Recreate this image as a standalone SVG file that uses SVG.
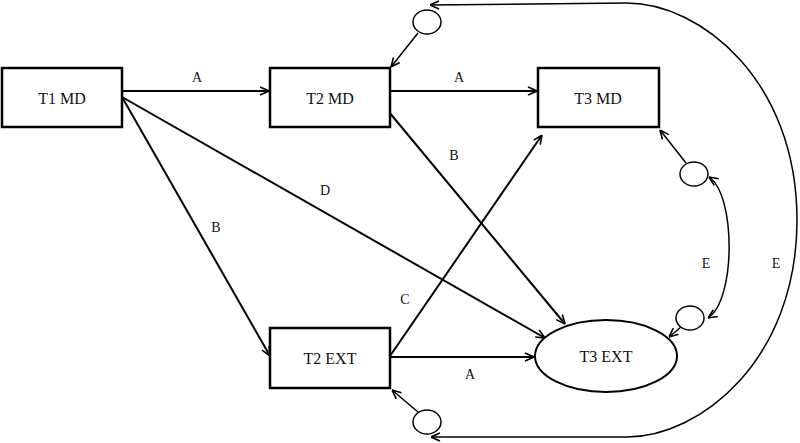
<svg xmlns="http://www.w3.org/2000/svg" width="800" height="443" viewBox="0 0 800 443">
<style>
.box{fill:#fff;stroke:#000;stroke-width:2.5}
.res{fill:#fff;stroke:#000;stroke-width:1.5}
.edge{fill:none;stroke:#000;stroke-width:2}
.cov{fill:none;stroke:#000;stroke-width:1.5}
text{font-family:'Liberation Serif','Times New Roman','DejaVu Serif',serif;text-anchor:middle;fill:#111}
.nt{font-size:16px}
.el{font-size:14px}
</style>
<defs>
<marker id="ah" viewBox="0 0 10 10" refX="10" refY="5" markerWidth="10" markerHeight="10" markerUnits="userSpaceOnUse" orient="auto-start-reverse">
<path d="M1,1 L10,5 L1,9" fill="none" stroke="#000" stroke-width="1.6"/>
</marker>
</defs>
<g id="connectors">
<line class="edge" x1="122" y1="91" x2="269" y2="91" marker-end="url(#ah)"/>
<line class="edge" x1="390" y1="91" x2="537" y2="91" marker-end="url(#ah)"/>
<line class="edge" x1="122" y1="97" x2="270" y2="356" marker-end="url(#ah)"/>
<line class="edge" x1="122" y1="97" x2="545" y2="338" marker-end="url(#ah)"/>
<line class="edge" x1="389" y1="112" x2="565" y2="324" marker-end="url(#ah)"/>
<line class="edge" x1="390" y1="356" x2="542" y2="135" marker-end="url(#ah)"/>
<line class="edge" x1="390" y1="357" x2="534" y2="357" marker-end="url(#ah)"/>
<line class="cov" x1="418" y1="33" x2="391" y2="67" marker-end="url(#ah)"/>
<line class="cov" x1="686" y1="163" x2="660" y2="130" marker-end="url(#ah)"/>
<line class="cov" x1="681" y1="327" x2="669" y2="337" marker-end="url(#ah)"/>
<line class="cov" x1="418" y1="412" x2="392" y2="390" marker-end="url(#ah)"/>
<path class="cov" d="M709,177 C736,195 736,300 708,318" marker-start="url(#ah)" marker-end="url(#ah)"/>
<path class="cov" d="M430,5 L627,3 C700,3 797,80 797,220 C797,360 700,437 627,437 L431,437" marker-start="url(#ah)" marker-end="url(#ah)"/>
<text class="el" x="197" y="82">A</text>
<text class="el" x="459" y="82">A</text>
<text class="el" x="216" y="232">B</text>
<text class="el" x="325" y="195">D</text>
<text class="el" x="454" y="160">B</text>
<text class="el" x="405" y="304">C</text>
<text class="el" x="470" y="379">A</text>
<text class="el" x="706" y="268">E</text>
<text class="el" x="776" y="268">E</text>
</g>
<g id="t1md"><rect class="box" x="2" y="68" width="120" height="59"/><text class="nt" x="62" y="104">T1 MD</text></g>
<g id="t2md"><rect class="box" x="270" y="68" width="120" height="59"/><text class="nt" x="330" y="104">T2 MD</text></g>
<g id="t3md"><rect class="box" x="538" y="68" width="121" height="59"/><text class="nt" x="598" y="104">T3 MD</text></g>
<g id="t2ext"><rect class="box" x="270" y="328" width="120" height="60"/><text class="nt" x="330" y="364">T2 EXT</text></g>
<g id="t3ext"><ellipse class="box" cx="606" cy="356" rx="71" ry="36" style="stroke-width:2"/><text class="nt" x="606" y="362">T3 EXT</text></g>
<g id="r_t2md"><ellipse class="res" cx="427" cy="22" rx="14" ry="12"/></g>
<g id="r_t3md"><ellipse class="res" cx="694" cy="174" rx="14" ry="12"/></g>
<g id="r_t3ext"><ellipse class="res" cx="690" cy="318" rx="14" ry="12"/></g>
<g id="r_t2ext"><ellipse class="res" cx="427" cy="422" rx="14" ry="12"/></g>
</svg>
